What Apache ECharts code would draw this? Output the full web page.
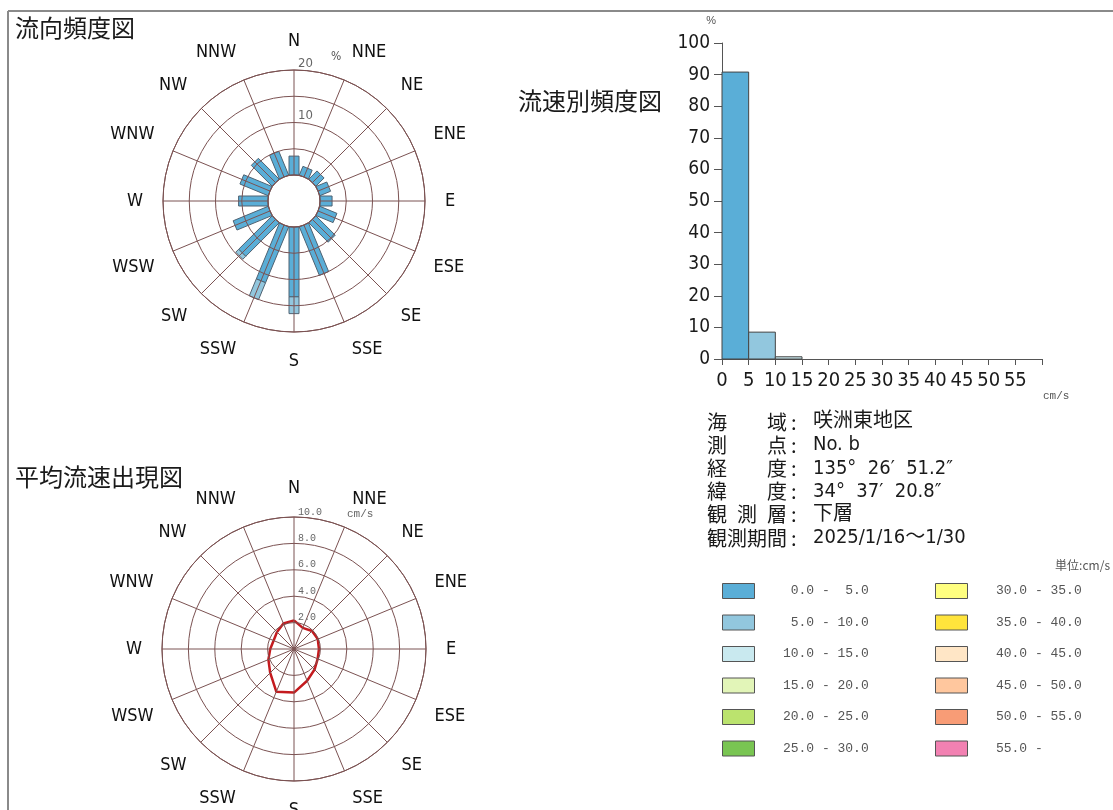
<!DOCTYPE html>
<html><head><meta charset="utf-8">
<script src="https://cdn.jsdelivr.net/npm/echarts@6/dist/echarts.min.js"></script>
<style>html,body{margin:0;padding:0;background:#fff}#c{width:1113px;height:810px}</style>
</head><body><div id="c"></div>
<script>
// ---------------- data ----------------
const directions = ['N','NNE','NE','ENE','E','ESE','SE','SSE','S','SSW','SW','WSW','W','WNW','NW','NNW'];
const classLabels = [' 0.0 -  5.0',' 5.0 - 10.0','10.0 - 15.0','15.0 - 20.0','20.0 - 25.0','25.0 - 30.0',
                     '30.0 - 35.0','35.0 - 40.0','40.0 - 45.0','45.0 - 50.0','50.0 - 55.0','55.0 -'];
const classColors = ['#5aaed7','#92c7de','#c9e9ef','#e2f5b8','#bbe36e','#79c552',
                     '#ffff80','#ffe43c','#ffe6c6','#ffc79e','#f89c76','#f281b2'];
const binLower = [0,5,10,15,20,25,30,35,40,45,50,55];
const binUpper = [5,10,15,20,25,30,35,40,45,50,55,60];
const speedFreq = [90.8, 8.5, 0.7, 0, 0, 0, 0, 0, 0, 0, 0, 0];          // % per speed class
const roseFreq0to5  = [3.6,1.8,2.2,2.2,2.3,3.5,5.2,10.0,13.3,11.5,9.0,7.2,5.6,5.8,5.6,4.9]; // %
const roseFreq5to10 = [0,0,0,0,0,0,0,0,3.2,3.5,0.8,0,0,0,0,0];                              // %
const meanSpeed = [2.17,1.73,1.93,1.95,1.89,1.94,2.2,2.6,3.3,3.5,2.55,2.1,1.8,1.67,1.82,2.09]; // cm/s
const infoLabels = ['海域','測点','経度','緯度','観測層','観測期間'];
const infoValues = ['咲洲東地区','No. b','135°  26′  51.2″','34°  37′  20.8″','下層','2025/1/16～1/30'];

// ---------------- styles ----------------
const NARROW = "'DejaVu Sans Condensed','Liberation Sans Narrow','Liberation Sans',sans-serif";
const MONO = "'Liberation Mono','DejaVu Sans Mono',monospace";
const CJK = "'Noto Sans CJK JP',sans-serif";
const GRID = '#7b5252';
const STEP = 360 / directions.length;
const dirAngle = i => i * STEP;

const chart = echarts.init(document.getElementById('c'), null, {renderer:'canvas'});

function roseItem(params, api) {
  const a = api.value(0), r0 = api.value(1), r1 = api.value(2);
  if (!(r1 > r0)) return null;
  const p0 = api.coord([r0, a]), p1 = api.coord([r1, a]);
  const dx = p1[0]-p0[0], dy = p1[1]-p0[1], len = Math.hypot(dx, dy) || 1;
  const hw = 5;
  const nx = -dy/len*hw, ny = dx/len*hw;
  return {type:'polygon', shape:{points:[[p0[0]+nx,p0[1]+ny],[p1[0]+nx,p1[1]+ny],[p1[0]-nx,p1[1]-ny],[p0[0]-nx,p0[1]-ny]]},
          style:{fill: api.visual('color'), stroke:'#4f6272', lineWidth:1}};
}
function histItem(params, api) {
  const lo = api.value(0), hi = api.value(1), v = api.value(2);
  if (!(v > 0)) return null;
  const p0 = api.coord([lo, 0]), p1 = api.coord([hi, v]);
  return {type:'rect', shape:{x:p0[0], y:p1[1], width:p1[0]-p0[0], height:p0[1]-p1[1]},
          style:{fill: api.visual('color'), stroke:'#444', lineWidth:1}};
}

const roseClasses = [roseFreq0to5, roseFreq5to10];
const series = [];
roseClasses.forEach((arr, k) => {
  const data = arr.map((v, i) => {
    let start = 0;
    for (let j = 0; j < k; j++) start += roseClasses[j][i];
    return [dirAngle(i), start, start + v];
  });
  series.push({type:'custom', name: classLabels[k], coordinateSystem:'polar', polarIndex:0,
    itemStyle:{color: classColors[k]}, encode:{angle:0, radius:[1,2]}, renderItem: roseItem, data, z:2});
});
classLabels.forEach((name, k) => {
  series.push({type:'custom', name, xAxisIndex:0, yAxisIndex:0, itemStyle:{color: classColors[k]},
    encode:{x:[0,1], y:2}, renderItem: histItem, data:[[binLower[k], binUpper[k], speedFreq[k]]]});
});
const polyData = meanSpeed.map((v, i) => [v, dirAngle(i)]);
polyData.push([meanSpeed[0], dirAngle(0)]);
series.push({type:'line', name:'mean', coordinateSystem:'polar', polarIndex:1, data: polyData,
  symbol:'none', smooth:false, lineStyle:{color:'#c41a1e', width:2.5}, z:5});

// graphics: titles, info, border
const graphics = [
  {type:'line', shape:{x1:8,y1:11,x2:1113,y2:11}, style:{stroke:'#8a8a8a', lineWidth:2}},
  {type:'line', shape:{x1:8,y1:11,x2:8,y2:810}, style:{stroke:'#8a8a8a', lineWidth:2}},
  {type:'text', x:15, y:28, style:{text:'流向頻度図', font:'24px '+CJK, fill:'#1a1a1a', verticalAlign:'middle'}},
  {type:'text', x:15, y:477, style:{text:'平均流速出現図', font:'24px '+CJK, fill:'#1a1a1a', verticalAlign:'middle'}},
  {type:'text', x:518, y:101, style:{text:'流速別頻度図', font:'24px '+CJK, fill:'#1a1a1a', verticalAlign:'middle'}},
  {type:'text', x:331, y:57, style:{text:'%', font:'12px '+NARROW, fill:'#555', verticalAlign:'middle'}},
  {type:'text', x:347, y:514, style:{text:'cm/s', font:'11px '+MONO, fill:'#666', verticalAlign:'middle'}},
  {type:'text', x:1043, y:396, style:{text:'cm/s', font:'11px '+MONO, fill:'#555', verticalAlign:'middle'}},
  {type:'text', x:1110, y:565, style:{text:'単位:cm/s', font:'12px '+CJK, fill:'#555', align:'right', verticalAlign:'middle'}}
];
infoLabels.forEach((lab, r) => {
  const y = 422 + r * 23.2;
  const chars = lab.split('');
  const step = chars.length > 1 ? 60 / (chars.length - 1) : 0;
  chars.forEach((ch, k) => graphics.push({type:'text', x:707 + k*step, y,
    style:{text:ch, font:'20px '+CJK, fill:'#1a1a1a', verticalAlign:'middle'}}));
  graphics.push({type:'text', x:791, y, style:{text:':', font:'20px '+CJK, fill:'#1a1a1a', verticalAlign:'middle'}});
  graphics.push({type:'text', x:813, y, style:{text:infoValues[r], font:'20px '+NARROW+','+CJK, fill:'#1a1a1a', verticalAlign:'middle'}});
});

const angleCommon = {
  type:'value', min:0, max:360, interval:STEP, startAngle:90, clockwise:true, z:10,
  axisLine:{show:true, lineStyle:{color:GRID, width:1}},
  axisTick:{show:false},
  axisLabel:{show:true, margin:20, fontSize:18, color:'#111', fontFamily:NARROW,
    formatter: v => v >= 360 ? '' : directions[Math.round(v / STEP) % directions.length]},
  splitLine:{show:true, lineStyle:{color:GRID, width:1}}
};

const option = {
  animation:false,
  backgroundColor:'#fff',
  polar:[{center:[294,201], radius:[26,131]}, {center:[294,649], radius:[0,132]}],
  angleAxis:[Object.assign({polarIndex:0}, angleCommon), Object.assign({polarIndex:1}, angleCommon)],
  radiusAxis:[
    {polarIndex:0, type:'value', min:0, max:20, interval:5, z:10,
     axisLine:{show:false}, axisTick:{show:false},
     axisLabel:{show:true, margin:-4, align:'left', verticalAlign:'bottom', fontSize:13, color:'#666', fontFamily:NARROW,
       formatter: v => (v === 10 || v === 20) ? String(v) : ''},
     splitLine:{show:true, lineStyle:{color:GRID, width:1}}},
    {polarIndex:1, type:'value', min:0, max:10, interval:2, z:10,
     axisLine:{show:false}, axisTick:{show:false},
     axisLabel:{show:true, margin:-4, align:'left', verticalAlign:'bottom', fontSize:10, color:'#666', fontFamily:MONO,
       formatter: v => v > 0 ? v.toFixed(1) : ''},
     splitLine:{show:true, lineStyle:{color:GRID, width:1}}}
  ],
  grid:{left:722, top:43, width:320, height:316, containLabel:false},
  xAxis:{type:'value', min:0, max:60, interval:5,
    axisLine:{show:true, onZero:false, lineStyle:{color:'#555'}},
    axisTick:{show:true, length:6, lineStyle:{color:'#555'}},
    axisLabel:{fontSize:20, margin:12, color:'#1a1a1a', fontFamily:NARROW,
      formatter: v => v === 60 ? '' : String(v)},
    splitLine:{show:false}},
  yAxis:{type:'value', min:0, max:100, interval:10, name:'%', nameGap:17,
    nameTextStyle:{fontSize:11, color:'#555', align:'right', padding:[0,6,0,0]},
    axisLine:{show:true, lineStyle:{color:'#555'}},
    axisTick:{show:true, length:8, lineStyle:{color:'#555'}},
    axisLabel:{fontSize:19, margin:12, color:'#1a1a1a', fontFamily:NARROW},
    splitLine:{show:false}},
  legend:[
    {data: classLabels.slice(0,6), left:722, top:583, padding:0, orient:'vertical', itemWidth:32, itemHeight:15, itemGap:15.5,
     icon:'rect', selectedMode:false, itemStyle:{borderColor:'#555', borderWidth:1},
     formatter: n => '   ' + n, textStyle:{fontFamily:MONO, fontSize:13, color:'#555'}},
    {data: classLabels.slice(6), left:935, top:583, padding:0, orient:'vertical', itemWidth:32, itemHeight:15, itemGap:15.5,
     icon:'rect', selectedMode:false, itemStyle:{borderColor:'#555', borderWidth:1},
     formatter: n => '   ' + n, textStyle:{fontFamily:MONO, fontSize:13, color:'#555'}}
  ],
  graphic: graphics,
  series
};
chart.setOption(option);
</script></body></html>
